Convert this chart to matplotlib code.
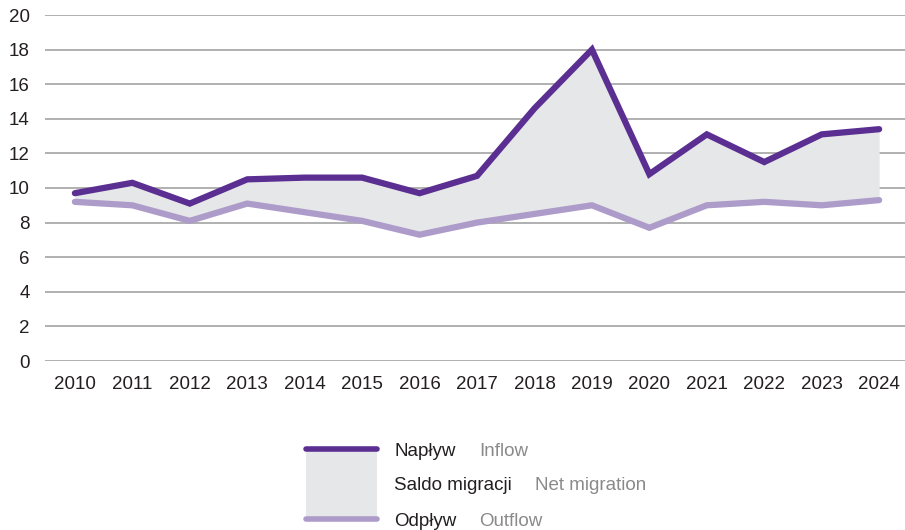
import numpy as np
import matplotlib.pyplot as plt
from matplotlib.lines import Line2D
from matplotlib.patches import Rectangle

plt.rcParams['font.family'] = ['Liberation Sans', 'DejaVu Sans']

# ==============================
# Data
# ==============================
years = list(range(2010, 2025))
inflow = [9.7, 10.3, 9.1, 10.5, 10.6, 10.6, 9.7, 10.7, 14.6, 18.0, 10.8, 13.1, 11.5, 13.1, 13.4]
outflow = [9.2, 9.0, 8.1, 9.1, 8.6, 8.1, 7.3, 8.0, 8.5, 9.0, 7.7, 9.0, 9.2, 9.0, 9.3]
y_ticks = list(range(0, 21, 2))

labels_pl = ["Napływ", "Saldo migracji", "Odpływ"]
labels_en = ["Inflow", "Net migration", "Outflow"]

# ==============================
# Styles
# ==============================
C_IN = "#5b2e91"
C_OUT = "#ad9bca"
C_FILL = "#e6e7e8"
C_GRID = "#a3a3a3"
C_TEXT = "#231f20"
C_GREY = "#8a8a8a"
FS = 13.5

W, H = 905, 530
fig = plt.figure(figsize=(W / 100, H / 100), dpi=100)
ax = fig.add_axes([45 / W, (H - 361) / H, 860 / W, 346 / H])

ax.fill_between(years, outflow, inflow, color=C_FILL, lw=0, zorder=2)
ax.plot(years, outflow, color=C_OUT, lw=4.5, solid_capstyle="round",
        solid_joinstyle="miter", zorder=3)
ax.plot(years, inflow, color=C_IN, lw=4.5, solid_capstyle="round",
        solid_joinstyle="miter", zorder=4)

ax.set_xlim(2009.48, 2024.45)
ax.set_ylim(0, 20)
ax.set_yticks(y_ticks)
ax.set_xticks(years)
ax.set_xticklabels([str(y) for y in years])
ax.grid(axis="y", color=C_GRID, lw=1.2, zorder=1)
ax.set_axisbelow(True)
for s in ax.spines.values():
    s.set_visible(False)
ax.tick_params(length=0, labelsize=FS, colors=C_TEXT)
ax.tick_params(axis="y", pad=11)
ax.tick_params(axis="x", pad=11)

# ==============================
# Legend (custom)
# ==============================
def fx(px):
    return px / W


def fy(py):
    return 1 - py / H


fig.patches.append(Rectangle((fx(306), fy(519)), fx(377) - fx(306), fy(449) - fy(519),
                             transform=fig.transFigure, color=C_FILL, lw=0))
fig.lines.append(Line2D([fx(306), fx(377)], [fy(449), fy(449)], transform=fig.transFigure,
                        color=C_IN, lw=4, solid_capstyle="round"))
fig.lines.append(Line2D([fx(306), fx(377)], [fy(519), fy(519)], transform=fig.transFigure,
                        color=C_OUT, lw=4, solid_capstyle="round"))

rows_y = [451, 486, 521]
en_x = [479, 535, 479]
for pl, en, py, ex in zip(labels_pl, labels_en, rows_y, en_x):
    fig.text(fx(394), fy(py), pl, color=C_TEXT, fontsize=FS, va="center", ha="left")
    fig.text(fx(ex), fy(py), en, color=C_GREY, fontsize=FS, va="center", ha="left")

fig.savefig("out.png", dpi=100)
